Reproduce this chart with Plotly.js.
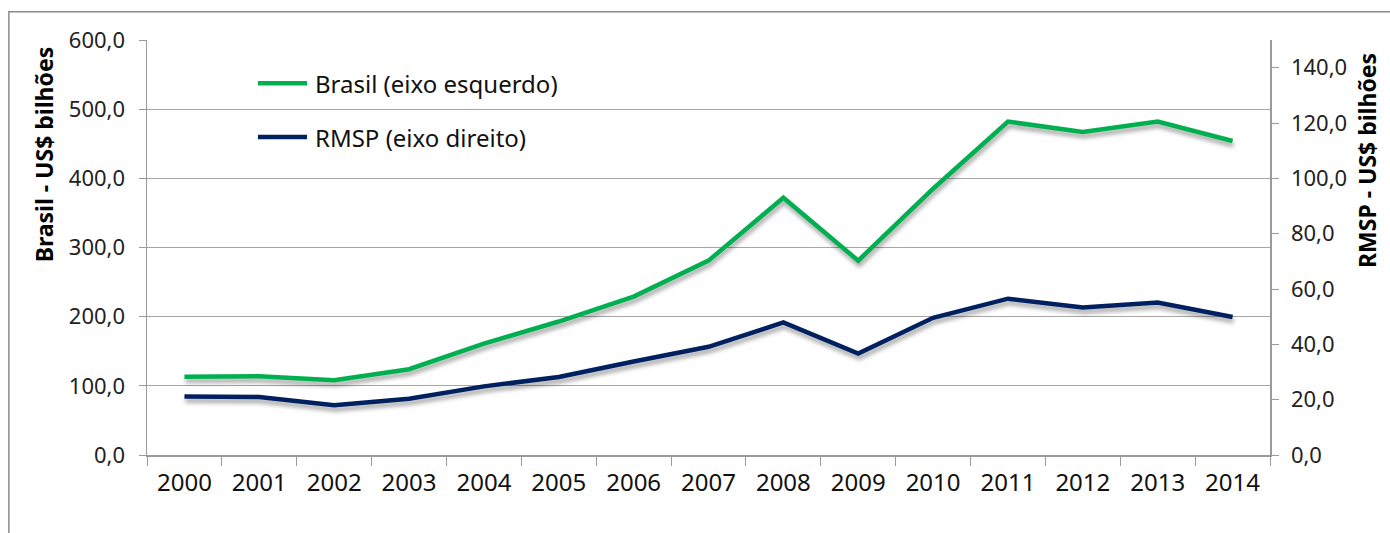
<!DOCTYPE html>
<html>
<head>
<meta charset="utf-8">
<script src="https://cdn.plot.ly/plotly-3.0.1.min.js"></script>
<style>
html,body{margin:0;padding:0;background:#fff;}
#chart{width:1390px;height:533px;}
.scatterlayer .trace path.js-line{filter:drop-shadow(1px 4px 2px rgba(0,0,0,0.35));}
</style>
</head>
<body>
<div id="chart"></div>
<script>
var years = ["2000","2001","2002","2003","2004","2005","2006","2007","2008","2009","2010","2011","2012","2013","2014"];
var brasil = [113, 114, 108, 124, 161, 193, 229, 281, 372, 281, 385, 482, 467, 482, 454];
var rmsp = [21.1, 21.0, 18.0, 20.3, 24.8, 28.2, 33.8, 39.1, 47.9, 36.7, 49.6, 56.5, 53.3, 55.1, 49.9];
var seriesNames = ["Brasil (eixo esquerdo)", "RMSP (eixo direito)"];
var leftTicks = [0,100,200,300,400,500,600];
var rightTicks = [0,20,40,60,80,100,120,140];
var leftTitle = "Brasil - US$ bilhões";
var rightTitle = "RMSP - US$ bilhões";
function fmt(v){ return v.toFixed(1).replace('.', ','); }

var FONT = "Noto Sans";
var colors = ["#00B050", "#002060"];
var traces = [
  {x: years, y: brasil, name: seriesNames[0], type: "scatter", mode: "lines",
   line: {color: colors[0], width: 4.5}, yaxis: "y", showlegend: false},
  {x: years, y: rmsp, name: seriesNames[1], type: "scatter", mode: "lines",
   line: {color: colors[1], width: 4.5}, yaxis: "y2", showlegend: false}
];

// manual legend (line sample + label), placed in paper coordinates
var legendY = [0.896, 0.766];
var shapes = [
  {type: "rect", xref: "paper", yref: "paper", x0: -0.123, x1: 1.2, y0: -0.3, y1: 1.068,
   line: {color: "#8c8c8c", width: 1.5}, fillcolor: "rgba(0,0,0,0)", layer: "below"}
];
var annotations = [];
seriesNames.forEach(function(n, i){
  shapes.push({type: "line", xref: "paper", yref: "paper", x0: 0.0988, x1: 0.1425, y0: legendY[i], y1: legendY[i],
               line: {color: colors[i], width: 4.5}});
  annotations.push({xref: "paper", yref: "paper", x: 0.1478, y: legendY[i], xanchor: "left", yanchor: "middle",
                    text: n, showarrow: false, font: {family: FONT, size: 24, color: "#111"}});
});
annotations.push({xref: "paper", yref: "paper", x: -0.0915, y: 0.725, xanchor: "center", yanchor: "middle",
                  textangle: -90, text: leftTitle, showarrow: false,
                  font: {family: FONT, size: 23, color: "#000", weight: "bold"}});
annotations.push({xref: "paper", yref: "paper", x: 1.087, y: 0.71, xanchor: "center", yanchor: "middle",
                  textangle: -90, text: rightTitle, showarrow: false,
                  font: {family: FONT, size: 23, color: "#000", weight: "bold"}});

var layout = {
  width: 1390, height: 533,
  margin: {l: 147, r: 120, t: 40, b: 78},
  paper_bgcolor: "#fff", plot_bgcolor: "#fff",
  font: {family: FONT, color: "#222", size: 21},
  showlegend: false,
  xaxis: {type: "category", categoryorder: "array", categoryarray: years, range: [-0.5, 14.5],
          showgrid: false, showline: true, linecolor: "#9a9a9a", linewidth: 1.5,
          ticks: "outside", tickson: "boundaries", ticklen: 9, tickcolor: "#9a9a9a",
          tickfont: {family: FONT, size: 24, color: "#111"}, ticklabelstandoff: 6, zeroline: false},
  yaxis: {range: [0, 600], tickvals: leftTicks, ticktext: leftTicks.map(fmt),
          showgrid: true, gridcolor: "#a6a6a6", gridwidth: 1.2, showline: true, linecolor: "#9a9a9a", linewidth: 1.5,
          ticks: "outside", ticklen: 7, tickcolor: "#9a9a9a", zeroline: false,
          tickfont: {family: FONT, size: 22, color: "#222"}, ticklabelstandoff: 9},
  yaxis2: {range: [0, 150], tickvals: rightTicks, ticktext: rightTicks.map(fmt), overlaying: "y", side: "right",
          showgrid: false, showline: true, linecolor: "#9a9a9a", linewidth: 1.5,
          ticks: "outside", ticklen: 7, tickcolor: "#9a9a9a", zeroline: false,
          tickfont: {family: FONT, size: 22, color: "#222"}, ticklabelstandoff: 8},
  shapes: shapes,
  annotations: annotations
};

Plotly.newPlot("chart", traces, layout, {displayModeBar: false, staticPlot: true});
</script>
</body>
</html>
